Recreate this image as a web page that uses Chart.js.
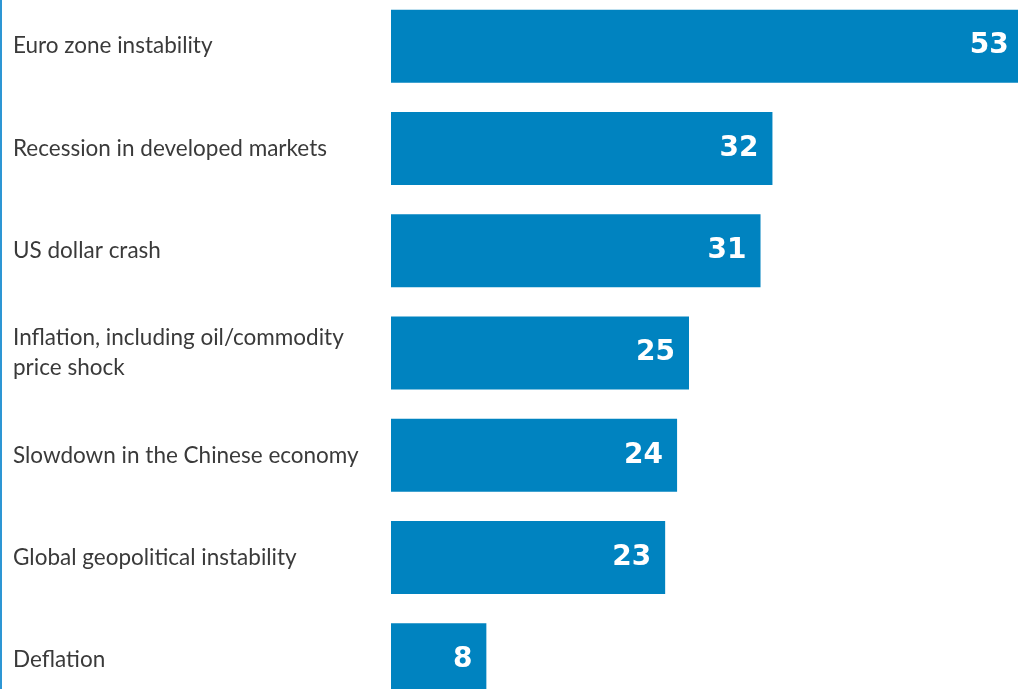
<!DOCTYPE html>
<html>
<head>
<meta charset="utf-8">
<script src="https://cdn.jsdelivr.net/npm/chart.js@4.4.1/dist/chart.umd.min.js"></script>
<style>
  html, body { margin: 0; padding: 0; background: #fff; overflow: hidden; }
  #wrap { position: absolute; left: 0; top: -5px; width: 1018px; height: 716px; }
</style>
</head>
<body>
<div id="wrap"><canvas id="chart"></canvas></div>
<script>
const categories = [
  'Euro zone instability',
  'Recession in developed markets',
  'US dollar crash',
  ['Inflation, including oil/commodity', 'price shock'],
  'Slowdown in the Chinese economy',
  'Global geopolitical instability',
  'Deflation'
];
const values = [53, 32, 31, 25, 24, 23, 8];

const BAR_COLOR = '#0083c0';
const LABEL_COLOR = '#3a3a3a';

// white figure just inside the end of each bar
const valueLabelPlugin = {
  id: 'valueLabels',
  afterDatasetsDraw(chart) {
    const ctx = chart.ctx;
    const meta = chart.getDatasetMeta(0);
    ctx.save();
    ctx.fillStyle = '#ffffff';
    ctx.font = 'bold 28px "DejaVu Sans"';
    ctx.textAlign = 'right';
    ctx.textBaseline = 'middle';
    meta.data.forEach((bar, i) => {
      ctx.fillText(String(values[i]), bar.x - 14, bar.y);
    });
    ctx.restore();
  }
};

// thin rule down the left edge
const leftRulePlugin = {
  id: 'leftRule',
  afterDraw(chart) {
    const ctx = chart.ctx;
    ctx.save();
    ctx.fillStyle = '#2d96d4';
    ctx.fillRect(0, 0, 2, chart.height);
    ctx.restore();
  }
};

Chart.register(valueLabelPlugin, leftRulePlugin);

new Chart(document.getElementById('chart'), {
  type: 'bar',
  data: {
    labels: categories,
    datasets: [{
      data: values,
      backgroundColor: BAR_COLOR,
      borderWidth: 0,
      barPercentage: 1,
      categoryPercentage: 0.714
    }]
  },
  options: {
    indexAxis: 'y',
    responsive: true,
    maintainAspectRatio: false,
    animation: false,
    layout: { padding: { left: 13, right: 0, top: 0, bottom: 0 } },
    plugins: {
      legend: { display: false },
      tooltip: { enabled: false }
    },
    scales: {
      x: {
        display: false,
        min: 0,
        max: 52.6
      },
      y: {
        grid: { display: false },
        border: { display: false },
        afterFit(scale) {
          // fixed label column, and no extra room above/below the bars
          scale.width = 378;
          scale.paddingTop = 0;
          scale.paddingBottom = 0;
        },
        ticks: {
          crossAlign: 'far',
          padding: 0,
          color: LABEL_COLOR,
          font: { family: 'Lato', size: 22.5, lineHeight: 1.33 }
        }
      }
    }
  }
});
</script>
</body>
</html>
